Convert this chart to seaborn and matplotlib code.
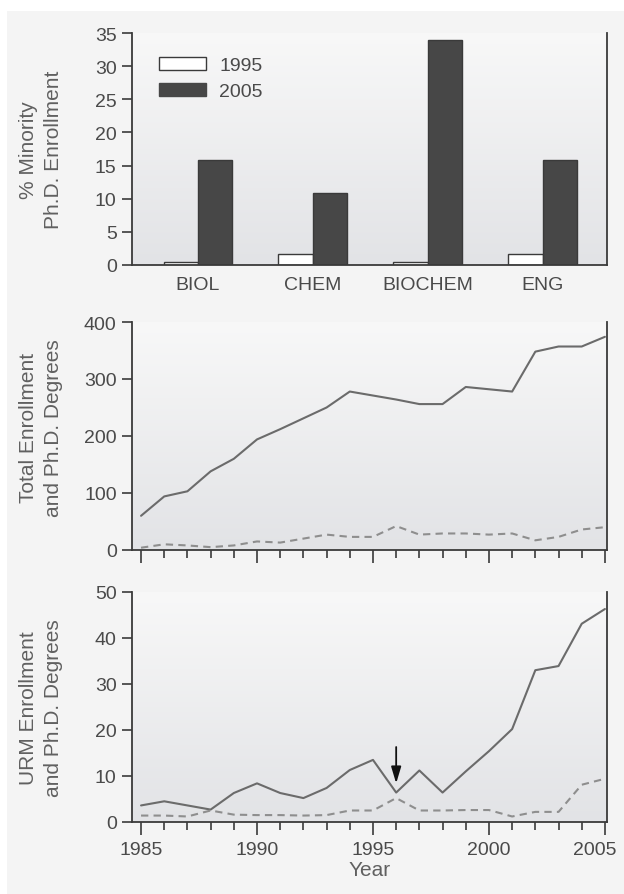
import numpy as np
import pandas as pd
import matplotlib
matplotlib.use("Agg")
import matplotlib.pyplot as plt
from matplotlib.colors import LinearSegmentedColormap
from matplotlib.patches import Rectangle, Patch
from matplotlib.ticker import MultipleLocator
from matplotlib.transforms import ScaledTranslation
import seaborn as sns

# ---------------- data ----------------
categories = ["BIOL", "CHEM", "BIOCHEM", "ENG"]
pct_1995 = [0.5, 1.7, 0.5, 1.7]
pct_2005 = [15.8, 10.8, 33.9, 15.8]

years = list(range(1985, 2006))
total_enroll = [60, 94, 103, 138, 160, 194, 212, 231, 250, 278, 271,
                264, 256, 256, 286, 282, 278, 348, 357, 357, 374]
total_phd = [4, 10, 8, 5, 8, 15, 13, 20, 27, 23, 23,
             42, 27, 29, 29, 27, 29, 17, 23, 36, 40]
urm_enroll = [3.6, 4.5, 3.6, 2.7, 6.3, 8.4, 6.3, 5.2, 7.4, 11.3, 13.5,
              6.4, 11.2, 6.4, 11.0, 15.4, 20.2, 33.0, 33.9, 43.1, 46.3]
urm_phd = [1.4, 1.4, 1.2, 2.5, 1.6, 1.5, 1.5, 1.4, 1.5, 2.5, 2.5,
           5.2, 2.5, 2.5, 2.6, 2.6, 1.2, 2.2, 2.2, 8.1, 9.4]

arrow_year = 1996
arrow_top, arrow_tip = 16.3, 8.4

# ---------------- style ----------------
sns.set_style("ticks")
plt.rcParams["font.family"] = ["Liberation Sans", "DejaVu Sans"]
TXT = "#4a4a4a"
LAB = "#606060"
SP = "#3a3a3a"
TICK_FS = 14
LAB_FS = 15

W, H = 624, 895
fig = plt.figure(figsize=(W / 100, H / 100), dpi=100)
fig.patch.set_facecolor("white")
fig.add_artist(Rectangle((7 / W, 0), 1 - 7 / W, 1 - 12 / H, transform=fig.transFigure,
                         facecolor="#f4f4f4", edgecolor="none", zorder=-10))

left = 132 / W
width = 475 / W


def make_ax(top_px, bot_px):
    return fig.add_axes([left, 1 - bot_px / H, width, (bot_px - top_px) / H])


ax1 = make_ax(34, 266)
ax2 = make_ax(323, 551)
ax3 = make_ax(593, 823)

cmap = LinearSegmentedColormap.from_list("bg", ["#e2e3e6", "#f8f8f8"])
grad = np.linspace(0, 1, 256).reshape(-1, 1)


def style(ax):
    ax.set_facecolor("none")
    ax.imshow(grad, extent=[0, 1, 0, 1], transform=ax.transAxes, origin="lower",
              aspect="auto", cmap=cmap, zorder=-5)
    for s in ["left", "bottom", "right"]:
        ax.spines[s].set_visible(True)
        ax.spines[s].set_color(SP)
        ax.spines[s].set_linewidth(1.3)
    ax.spines["top"].set_visible(False)
    ax.tick_params(axis="y", direction="out", length=7, width=1.2, color=SP,
                   labelsize=TICK_FS, labelcolor=TXT, pad=4)
    ax.tick_params(axis="y", which="both", right=False)


# ---------------- top: bar chart ----------------
df_bar = pd.DataFrame({
    "field": categories * 2,
    "year": ["1995"] * len(categories) + ["2005"] * len(categories),
    "pct": pct_1995 + pct_2005,
})
sns.barplot(data=df_bar, x="field", y="pct", hue="year", order=categories,
            hue_order=["1995", "2005"], palette={"1995": "white", "2005": "#474747"},
            width=0.6, edgecolor="#3a3a3a", linewidth=1.0, ax=ax1, legend=False,
            saturation=1)
style(ax1)
ax1.set_xlim(-0.574, 3.557)
ax1.set_ylim(0, 35)
ax1.yaxis.set_major_locator(MultipleLocator(5))
ax1.tick_params(axis="x", length=0, labelsize=TICK_FS, labelcolor=TXT, pad=8)
ax1.set_xlabel("")
ax1.set_ylabel("% Minority\nPh.D. Enrollment", fontsize=LAB_FS, color=LAB,
               linespacing=1.4)
ax1.yaxis.set_label_coords(-0.145, 0.5)
handles = [Patch(facecolor="white", edgecolor="#3a3a3a", linewidth=1.0, label="1995"),
           Patch(facecolor="#474747", edgecolor="#474747", linewidth=1.0, label="2005")]
ax1.legend(handles=handles, loc="upper left", bbox_to_anchor=(0.02, 0.97),
           frameon=False, fontsize=TICK_FS, handlelength=2.4, handleheight=0.6,
           handletextpad=0.7, labelspacing=0.45, labelcolor=TXT)

# ---------------- line charts ----------------
df_tot = pd.DataFrame({"Year": years * 2,
                       "val": total_enroll + total_phd,
                       "kind": ["enroll"] * len(years) + ["phd"] * len(years)})
df_urm = pd.DataFrame({"Year": years * 2,
                       "val": urm_enroll + urm_phd,
                       "kind": ["enroll"] * len(years) + ["phd"] * len(years)})

line_pal = {"enroll": "#6b6b6b", "phd": "#8e8e8e"}
for ax, df, ymax, ystep, lab, ly in [
        (ax2, df_tot, 400, 100, "Total Enrollment\nand Ph.D. Degrees", 0.54),
        (ax3, df_urm, 50, 10, "URM Enrollment\nand Ph.D. Degrees", 0.5)]:
    sns.lineplot(data=df, x="Year", y="val", hue="kind", style="kind",
                 palette=line_pal, dashes={"enroll": "", "phd": (3.5, 2.5)},
                 linewidth=1.5, ax=ax, legend=False)
    style(ax)
    ax.set_xlim(1984.61, 2005.09)
    ax.set_ylim(0, ymax)
    ax.yaxis.set_major_locator(MultipleLocator(ystep))
    ax.xaxis.set_major_locator(MultipleLocator(5))
    ax.xaxis.set_minor_locator(MultipleLocator(1))
    ax.tick_params(axis="x", which="major", direction="out", length=9, width=1.2,
                   color=SP, labelsize=TICK_FS, labelcolor=TXT, pad=5)
    ax.tick_params(axis="x", which="minor", direction="out", length=5.5, width=1.2,
                   color=SP)
    ax.set_ylabel(lab, fontsize=LAB_FS, color=LAB, linespacing=1.4)
    ax.yaxis.set_label_coords(-0.145, ly)
    ax.set_xlabel("")

ax2.tick_params(axis="x", which="major", labelbottom=False)
ax3.set_xlabel("Year", fontsize=LAB_FS, color=LAB, labelpad=1)

# the last year label sits a little left of its tick, inside the figure
fig.canvas.draw()
for lbl in ax3.get_xticklabels():
    if lbl.get_text() == "2005":
        lbl.set_transform(lbl.get_transform() + ScaledTranslation(-10 / 100, 0, fig.dpi_scale_trans))

ax3.annotate("", xy=(arrow_year, arrow_tip), xytext=(arrow_year, arrow_top),
             arrowprops=dict(arrowstyle="-|>,head_length=1.0,head_width=0.3",
                             color="#111111", lw=1.3, shrinkA=0, shrinkB=0))

fig.savefig("out.png", dpi=100, facecolor=fig.get_facecolor())
